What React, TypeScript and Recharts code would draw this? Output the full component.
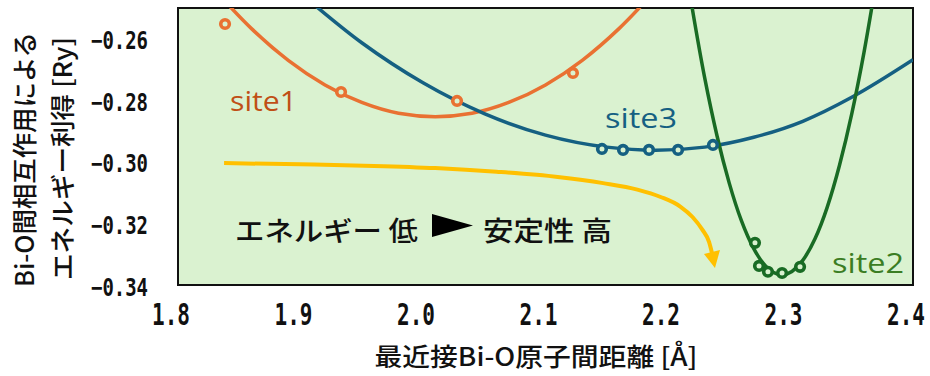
import { ComposedChart, Line, Scatter, XAxis, YAxis, ReferenceArea } from 'recharts'

const BG = '#DAF2D0'
const ORANGE = '#E97132'
const BLUE = '#156082'
const GREEN = '#196B24'
const YELLOW = '#FFC000'

const xTicks = [1.8, 1.9, 2.0, 2.1, 2.2, 2.3, 2.4]
const yTicks = [-0.34, -0.32, -0.3, -0.28, -0.26]

// calculated points (markers)
const site1Dist = [1.8384, 1.9331, 2.0278, 2.1224]
const site1Energy = [-0.2552, -0.2773, -0.2802, -0.2711]
const site3Dist = [2.1461, 2.1633, 2.1845, 2.2082, 2.2367]
const site3Energy = [-0.2958, -0.2961, -0.2961, -0.2961, -0.2945]
const site2Dist = [2.271, 2.2743, 2.2816, 2.2931, 2.3078]
const site2Energy = [-0.3263, -0.3338, -0.3357, -0.3361, -0.3341]

// fitted curves
const fit1Dist = [1.83, 1.86, 1.89, 1.92, 1.95, 1.98, 2.01, 2.04, 2.07, 2.1, 2.13, 2.16, 2.19]
const fit1Energy = [-0.2442, -0.2567, -0.267, -0.275, -0.2807, -0.2842, -0.2853, -0.2842, -0.2807, -0.275, -0.267, -0.2567, -0.2442]
const fit3Dist = [1.9, 1.95, 2.0, 2.05, 2.1, 2.15, 2.19, 2.23, 2.27, 2.31, 2.35, 2.4]
const fit3Energy = [-0.2452, -0.2613, -0.2743, -0.2843, -0.2913, -0.2952, -0.2962, -0.2952, -0.292, -0.2868, -0.279, -0.2668]
const fit2Dist = [2.215, 2.23, 2.24, 2.25, 2.26, 2.27, 2.28, 2.293, 2.31, 2.32, 2.33, 2.34, 2.35, 2.36, 2.37]
const fit2Energy = [-0.2388, -0.2728, -0.2915, -0.3069, -0.3192, -0.3282, -0.334, -0.3367, -0.332, -0.325, -0.3147, -0.3011, -0.2844, -0.2644, -0.2412]

// yellow "stability" arrow
const arrowDist = [1.8376, 1.9, 1.96, 2.01, 2.06, 2.11, 2.147, 2.175, 2.194, 2.21, 2.22, 2.228, 2.2335, 2.2359]
const arrowEnergy = [-0.3004, -0.3008, -0.3013, -0.302, -0.3032, -0.3049, -0.3069, -0.309, -0.3114, -0.3145, -0.3179, -0.322, -0.326, -0.3296]

const pts = (xs: number[], ys: number[]) => xs.map((x, i) => ({ x, y: ys[i] }))

const XTick = (props: any) => (
  <text
    x={props.x - 7}
    y={325}
    textAnchor="middle"
    fontFamily="'DejaVu Sans Mono', monospace"
    fontWeight="bold"
    fontSize={30}
    textLength={38}
    lengthAdjust="spacingAndGlyphs"
    fill="#111"
  >
    {props.payload.value.toFixed(1)}
  </text>
)

const YTick = (props: any) => (
  <text
    x={148}
    y={props.y + 10.5}
    textAnchor="end"
    fontFamily="'DejaVu Sans Mono', monospace"
    fontWeight="bold"
    fontSize={24}
    textLength={57}
    lengthAdjust="spacingAndGlyphs"
    fill="#111"
  >
    {props.payload.value.toFixed(2).replace('-', '\u2212')}
  </text>
)

const ring = (color: string) => (props: any) => (
  <circle cx={props.cx} cy={props.cy} r={4.3} fill={BG} stroke={color} strokeWidth={3.6} />
)

const arrowHead = (props: any) => {
  const { cx, cy, index } = props
  if (index !== arrowDist.length - 1) return <g key={index} />
  return (
    <polygon
      key={index}
      points={`${cx - 8},${cy + 1} ${cx + 8},${cy - 3} ${cx + 3},${cy + 15}`}
      fill={YELLOW}
    />
  )
}

const JP = "'Noto Sans CJK JP', sans-serif"

export default function App() {
  return (
    <div style={{ position: 'relative', width: 930, height: 376, background: '#fff' }}>
      <style>{`body{margin:0}`}</style>
      <ComposedChart width={930} height={376} margin={{ top: 8, right: 17, bottom: 0, left: 0 }}>
        <XAxis
          type="number"
          dataKey="x"
          domain={[1.8, 2.4]}
          ticks={xTicks}
          allowDataOverflow
          axisLine={false}
          tickLine={false}
          height={91}
          tick={<XTick />}
        />
        <YAxis
          type="number"
          dataKey="y"
          domain={[-0.34, -0.25]}
          ticks={yTicks}
          allowDataOverflow
          axisLine={false}
          tickLine={false}
          width={178}
          tick={<YTick />}
        />
        <ReferenceArea x1={1.8} x2={2.4} y1={-0.34} y2={-0.25} fill={BG} fillOpacity={1} stroke="#111" strokeWidth={2} />

        <Line data={pts(arrowDist, arrowEnergy)} dataKey="y" type="monotone" stroke={YELLOW} strokeWidth={4} dot={arrowHead} isAnimationActive={false} />
        <Line data={pts(fit1Dist, fit1Energy)} dataKey="y" type="monotone" stroke={ORANGE} strokeWidth={3.5} dot={false} isAnimationActive={false} />
        <Line data={pts(fit3Dist, fit3Energy)} dataKey="y" type="monotone" stroke={BLUE} strokeWidth={3.5} dot={false} isAnimationActive={false} />
        <Line data={pts(fit2Dist, fit2Energy)} dataKey="y" type="monotone" stroke={GREEN} strokeWidth={3.5} dot={false} isAnimationActive={false} />

        <Scatter data={pts(site1Dist, site1Energy)} dataKey="y" shape={ring(ORANGE)} isAnimationActive={false} />
        <Scatter data={pts(site3Dist, site3Energy)} dataKey="y" shape={ring(BLUE)} isAnimationActive={false} />
        <Scatter data={pts(site2Dist, site2Energy)} dataKey="y" shape={ring(GREEN)} isAnimationActive={false} />
      </ComposedChart>

      <svg width={930} height={376} style={{ position: 'absolute', left: 0, top: 0, pointerEvents: 'none' }}>
        <g fontFamily={JP} fontWeight={500} fill="#111">
          <text x={23} y={159.5} transform="rotate(-90 23 159.5)" textAnchor="middle" dominantBaseline="central" fontSize={25} textLength={255} lengthAdjust="spacingAndGlyphs">
            Bi-O間相互作用による
          </text>
          <text x={61} y={158.5} transform="rotate(-90 61 158.5)" textAnchor="middle" dominantBaseline="central" fontSize={25} textLength={243} lengthAdjust="spacingAndGlyphs">
            エネルギー利得 [Ry]
          </text>
          <text x={536} y={355} textAnchor="middle" dominantBaseline="central" fontSize={25} textLength={323} lengthAdjust="spacingAndGlyphs">
            最近接Bi-O原子間距離 [Å]
          </text>
          <text x={235} y={229.5} dominantBaseline="central" fontSize={27} textLength={183} lengthAdjust="spacingAndGlyphs">
            エネルギー 低
          </text>
          <polygon points="432,214 473,225.5 432,237" fill="#000" />
          <text x={483} y={229.5} dominantBaseline="central" fontSize={27} textLength={129} lengthAdjust="spacingAndGlyphs">
            安定性 高
          </text>
        </g>
        <g fontFamily="'Open Sans', 'Noto Sans', sans-serif" fontSize={27} fontWeight={500}>
          <text x={230} y={111} fill="#C04F15" textLength={67} lengthAdjust="spacingAndGlyphs">site1</text>
          <text x={605} y={128} fill={BLUE} textLength={72} lengthAdjust="spacingAndGlyphs">site3</text>
          <text x={832} y={273} fill="#3B7D23" textLength={72} lengthAdjust="spacingAndGlyphs">site2</text>
        </g>
      </svg>
    </div>
  )
}
